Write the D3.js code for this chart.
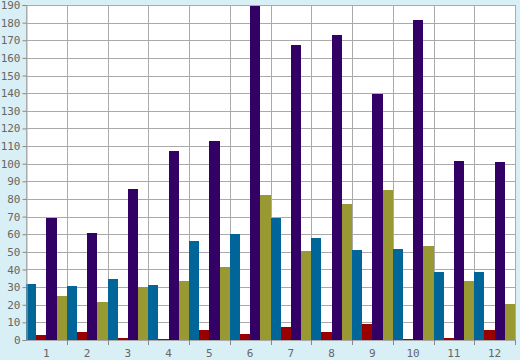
<!DOCTYPE html>
<html><head><meta charset="utf-8">
<script src="https://cdn.jsdelivr.net/npm/d3@7"></script>
<style>html,body{margin:0;padding:0;background:#d9eff6;}svg{display:block;}</style>
</head><body><svg id="c" width="520" height="360"></svg>
<script>
const categories = ["1","2","3","4","5","6","7","8","9","10","11","12"];
const seriesNames = ["A","B","C","D"];
const seriesA = [31.8, 30.6, 34.6, 31.2, 56.1, 60.1, 69.2, 57.9, 51.0, 51.6, 38.6, 38.6];
const seriesB = [2.8, 4.5, 1.2, 0.7, 5.7, 3.4, 7.4, 4.5, 9.1, 0.6, 1.1, 5.7];
const seriesC = [69.2, 60.7, 85.6, 107.2, 112.9, 189.5, 167.3, 173.0, 139.5, 181.5, 101.5, 101.0];
const seriesD = [25.0, 21.6, 30.0, 33.5, 41.4, 82.2, 50.5, 77.1, 85.1, 53.3, 33.5, 20.4];
const yTicks = d3.range(0, 191, 10);
const colors = ["#006699", "#990000", "#330066", "#999933"];

const series = [seriesA, seriesB, seriesC, seriesD];
const svg = d3.select("#c");
const L = 26, R = 515, T = 5, B = 340;
const x = d3.scaleBand().domain(categories).range([L, R]).padding(0);
const xs = d3.scaleBand().domain(seriesNames).range([0, x.bandwidth()]).padding(0);
const y = d3.scaleLinear().domain([0, 190]).range([B, T]);

svg.append("rect").attr("x", L).attr("y", T).attr("width", R - L).attr("height", B - T).attr("fill", "#ffffff");

const grid = svg.append("g").attr("stroke", "#aaaaaa").attr("stroke-width", 1);
yTicks.forEach(t => {
  grid.append("line").attr("x1", L).attr("x2", R).attr("y1", Math.round(y(t)) + 0.5).attr("y2", Math.round(y(t)) + 0.5);
});
categories.forEach((c, i) => {
  const xx = Math.round(x(c)) + 0.5;
  grid.append("line").attr("x1", xx).attr("x2", xx).attr("y1", T).attr("y2", B);
});
grid.append("line").attr("x1", R + 0.5).attr("x2", R + 0.5).attr("y1", T).attr("y2", B);

const g = svg.append("g");
categories.forEach((c, i) => {
  series.forEach((s, j) => {
    const v = Math.min(s[i], 190);
    g.append("rect")
      .attr("x", x(c) + xs(seriesNames[j]))
      .attr("width", xs.bandwidth())
      .attr("y", y(v))
      .attr("height", B - y(v))
      .attr("fill", colors[j])
      .attr("shape-rendering", "crispEdges");
  });
});

// y axis
const yAxis = d3.axisLeft(y).tickValues(yTicks).tickSize(4).tickPadding(2);
const ya = svg.append("g").attr("transform", `translate(${L + 0.5},0)`).call(yAxis);
ya.select(".domain").attr("stroke", "#aaaaaa");
ya.selectAll(".tick line").attr("stroke", "#888888");
ya.selectAll("text").attr("fill", "#666666").style("font-family", "DejaVu Sans Mono").style("font-size", "11px");

// x axis
const xAxis = d3.axisBottom(x).tickSize(0).tickPadding(9);
const xa = svg.append("g").attr("transform", `translate(0,${B})`).call(xAxis);
xa.select(".domain").remove();
xa.selectAll("text").attr("fill", "#666666").style("font-family", "DejaVu Sans Mono").style("font-size", "11px");
const boundaries = categories.slice(1).map(c => x(c)).concat([R]);
xa.selectAll(".bt").data(boundaries).enter().append("line")
  .attr("x1", d => Math.round(d) + 0.5).attr("x2", d => Math.round(d) + 0.5)
  .attr("y1", 0).attr("y2", 5).attr("stroke", "#888888");
</script></body></html>
